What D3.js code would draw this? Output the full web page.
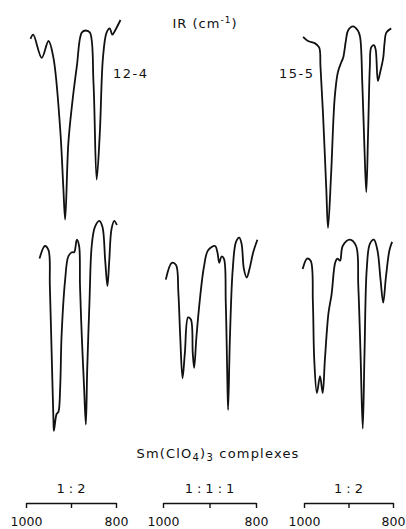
<!DOCTYPE html>
<html>
<head>
<meta charset="utf-8">
<script src="https://cdn.jsdelivr.net/npm/d3@7"></script>
<style>
  body { margin: 0; background: #fff; }
  svg { display: block; }
  text { font-family: "DejaVu Sans", sans-serif; fill: #111; }
</style>
</head>
<body>
<div id="chart"></div>
<script>
// IR traces, wavenumber (cm-1) vs transmittance (%)
const wn124 = [990, 984, 965, 950, 939, 924, 917, 913, 906, 898, 887, 876, 867, 858, 850, 843, 836, 829, 821, 814, 808, 802, 790];
const t124  = [91, 93, 82, 90, 82, 48, 20, 5, 41, 59, 78, 94, 95, 94, 70, 24, 46, 82, 94, 96, 93, 95, 100];

const wn155 = [1002, 991, 976, 966, 963, 957, 950, 946, 939, 931, 924, 916, 912, 906, 901, 890, 879, 874, 869, 864, 860, 856, 852, 849, 843, 839, 834, 829, 822, 819, 815, 804];
const t155  = [92, 90, 89, 87, 78, 54, 20, 1, 27, 63, 75, 80, 82, 90, 95, 97, 95, 92, 70, 38, 18, 46, 78, 87, 88, 86, 71, 75, 82, 89, 94, 96];

// Sm(ClO4)3 complexes
const wnA = [970, 958, 950, 947, 943, 939, 938, 932, 928, 924, 921, 913, 906, 898, 893, 887, 882, 880, 876, 871, 867, 864, 859, 854, 847, 837, 830, 824, 819, 815, 810, 804, 798];
const tA  = [84, 90, 88, 71, 39, 7, 2, 10, 11, 23, 47, 74, 85, 87, 87, 93, 90, 71, 47, 23, 5, 31, 63, 90, 99, 102, 99, 83, 71, 83, 98, 102, 100];

const wnB = [994, 981, 972, 967, 963, 958, 953, 946, 940, 936, 933, 928, 920, 912, 903, 888, 883, 879, 874, 869, 865, 862, 860, 856, 850, 843, 836, 831, 826, 820, 814, 806, 797];
const tB  = [74, 82, 81, 68, 47, 27, 39, 56, 55, 39, 32, 47, 66, 80, 88, 90, 87, 82, 85, 84, 63, 31, 12, 47, 79, 92, 94, 91, 79, 75, 79, 87, 93];

const wnC = [1003, 993, 985, 980, 977, 971, 964, 958, 953, 945, 938, 930, 925, 919, 913, 897, 883, 878, 873, 868, 864, 859, 852, 843, 835, 828, 822, 816, 808, 802];
const tC  = [79, 84, 83, 63, 36, 20, 28, 20, 36, 58, 67, 82, 84, 83, 90, 93, 90, 71, 39, 3, 39, 79, 91, 93, 88, 74, 63, 75, 88, 92];

const ratios = ["1:2", "1:1:1", "1:2"];
const tickVals = [1000, 900, 800];

const W = 406, H = 529;
const svg = d3.select("#chart").append("svg")
  .attr("width", W).attr("height", H);

// three wavenumber columns
const colRange = [[26, 116], [163, 256], [304, 393]];
const xs = colRange.map(r => d3.scaleLinear().domain([1000, 800]).range(r));

// two rows of traces
const yTop = d3.scaleLinear().domain([0, 100]).range([230, 20]);
const yMid = d3.scaleLinear().domain([0, 100]).range([435, 225]);

const traces = [
  { wn: wn124, t: t124, x: xs[0], y: yTop },
  { wn: wn155, t: t155, x: xs[2], y: yTop },
  { wn: wnA, t: tA, x: xs[0], y: yMid },
  { wn: wnB, t: tB, x: xs[1], y: yMid },
  { wn: wnC, t: tC, x: xs[2], y: yMid }
];

traces.forEach(tr => {
  const pts = tr.wn.map((w, i) => [w, tr.t[i]]);
  const line = d3.line()
    .x(d => tr.x(d[0]))
    .y(d => tr.y(d[1]))
    .curve(d3.curveCatmullRom.alpha(0.5));
  svg.append("path")
    .datum(pts)
    .attr("d", line)
    .attr("fill", "none")
    .attr("stroke", "#111")
    .attr("stroke-width", 1.8)
    .attr("stroke-linejoin", "round");
});

// title
const title = svg.append("text")
  .attr("x", 205).attr("y", 28)
  .attr("text-anchor", "middle")
  .attr("font-size", 13)
  .attr("letter-spacing", 1);
title.append("tspan").text("IR (cm");
title.append("tspan").attr("dy", -5).attr("font-size", 9).text("-1");
title.append("tspan").attr("dy", 5).text(")");

svg.append("text").attr("x", 113).attr("y", 78)
  .attr("font-size", 13).attr("letter-spacing", 1.5).text("12-4");
svg.append("text").attr("x", 279).attr("y", 78)
  .attr("font-size", 13).attr("letter-spacing", 1.5).text("15-5");

// caption
const cap = svg.append("text")
  .attr("x", 218).attr("y", 458)
  .attr("text-anchor", "middle")
  .attr("font-size", 13)
  .attr("letter-spacing", 1.2);
cap.append("tspan").text("Sm(ClO");
cap.append("tspan").attr("dy", 3).attr("font-size", 10).text("4");
cap.append("tspan").attr("dy", -3).text(")");
cap.append("tspan").attr("dy", 3).attr("font-size", 10).text("3");
cap.append("tspan").attr("dy", -3).text(" complexes");

// wavenumber brackets
xs.forEach((x, i) => {
  const g = svg.append("g").attr("transform", "translate(0,503)");
  g.call(d3.axisBottom(x)
    .tickValues(tickVals)
    .tickSize(5)
    .tickSizeOuter(0)
    .tickPadding(9)
    .tickFormat(d => d === 900 ? "" : d));
  g.select(".domain").attr("stroke", "#111").attr("stroke-width", 1.4);
  g.selectAll(".tick line").attr("stroke", "#111").attr("stroke-width", 1.4);
  g.selectAll(".tick text")
    .attr("font-size", 12.5)
    .attr("font-family", "DejaVu Sans, sans-serif")
    .attr("fill", "#111");
  svg.append("text")
    .attr("x", x(900) + 2).attr("y", 493)
    .attr("text-anchor", "middle")
    .attr("font-size", 13)
    .attr("letter-spacing", 4)
    .text(ratios[i]);
});
</script>
</body>
</html>
